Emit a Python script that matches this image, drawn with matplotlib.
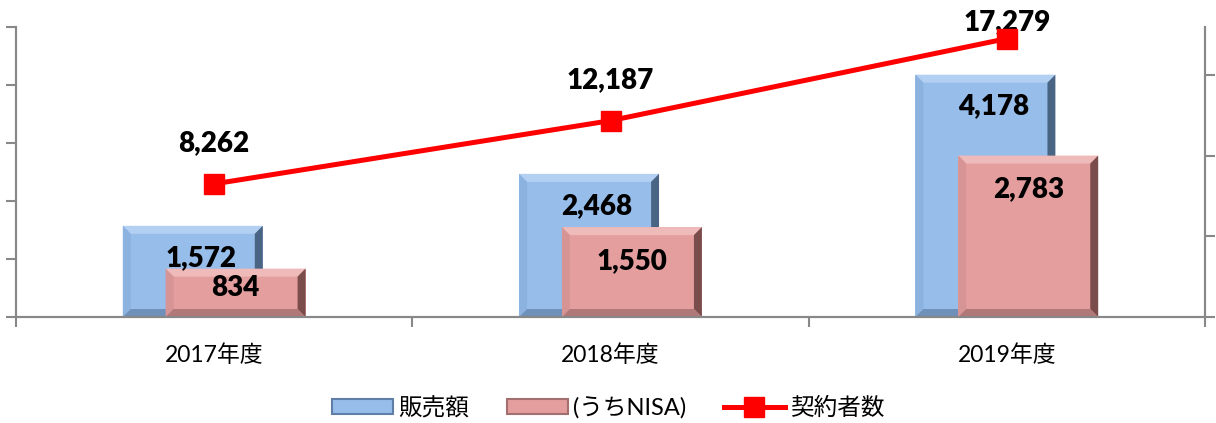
import matplotlib.pyplot as plt
from matplotlib.patches import Polygon, Patch
from matplotlib.lines import Line2D
import numpy as np

# data
years = ['2017年度', '2018年度', '2019年度']
sales = [1572, 2468, 4178]          # 販売額
nisa = [834, 1550, 2783]            # (うちNISA)
contracts = [8262, 12187, 17279]    # 契約者数

plt.rcParams['font.family'] = ['Lato', 'Noto Sans CJK JP', 'DejaVu Sans']

fig = plt.figure(figsize=(12.16, 4.23), dpi=100)
ax = fig.add_axes([16 / 1216, 106 / 423, 1189 / 1216, 290 / 423])
ax2 = ax.twinx()

x = np.arange(len(years))
width = 0.353
off = 0.054


def bevel_bars(bars, top, left, right, bottom, z):
    # fake the excel bevel effect with 4 trapezoids per bar
    dx = 0.02
    dy = 8 / 290 * 5000
    for b in bars:
        x0, y0 = b.get_x(), b.get_y()
        x1, y1 = x0 + b.get_width(), y0 + b.get_height()
        polys = [
            ([(x0, y1), (x1, y1), (x1 - dx, y1 - dy), (x0 + dx, y1 - dy)], top),
            ([(x0, y0), (x0, y1), (x0 + dx, y1 - dy), (x0 + dx, y0 + dy)], left),
            ([(x1, y0), (x1, y1), (x1 - dx, y1 - dy), (x1 - dx, y0 + dy)], right),
            ([(x0, y0), (x1, y0), (x1 - dx, y0 + dy), (x0 + dx, y0 + dy)], bottom),
        ]
        for pts, c in polys:
            ax.add_patch(Polygon(pts, closed=True, facecolor=c, edgecolor='none', zorder=z + 0.1))


b1 = ax.bar(x - off, sales, width, color='#97BDEB', zorder=2)
bevel_bars(b1, '#B3D0F2', '#8CB2E0', '#4A6484', '#6F90B8', 2)
b2 = ax.bar(x + off, nisa, width, color='#E49E9E', zorder=3)
bevel_bars(b2, '#EFBABA', '#D69494', '#7A4C4C', '#B07878', 3)

for xi, v in zip(x - off, sales):
    ax.text(xi + 0.02, max(v - 550, 0.6 * v), f'{v:,}', ha='center', va='center',
            fontsize=20, fontweight='heavy', zorder=5)
for xi, v in zip(x + off, nisa):
    ax.text(xi, max(v - 580, 0.6 * v), f'{v:,}', ha='center', va='center',
            fontsize=20, fontweight='heavy', zorder=5)

ax.set_xlim(-0.5, 2.5)
ax.set_ylim(0, 5000)
ax.set_yticks(np.arange(0, 5001, 1000))
ax.set_yticklabels([])
ax.set_xticks(x)
ax.set_xticklabels(years, fontsize=16.5)
ax.set_xticks([-0.5, 0.5, 1.5, 2.5], minor=True)
ax.tick_params(axis='x', which='major', length=0, pad=20)
ax.tick_params(axis='x', which='minor', length=7, width=1.5, color='#888888')
ax.tick_params(axis='y', length=7, width=1.5, color='#888888')

ax2.plot(x, contracts, color='#FF0000', lw=3.6, marker='s', markersize=14, zorder=4)
for xi, v in zip(x, contracts):
    ax2.text(xi, min(v + 2545, 18300), f'{v:,}', ha='center', va='center',
             fontsize=20, fontweight='heavy', clip_on=False)
ax2.set_ylim(0, 18000)
ax2.set_yticks([0, 5000, 10000, 15000])
ax2.set_yticklabels([])
ax2.tick_params(axis='y', length=7, width=1.5, color='#888888')

for a in (ax, ax2):
    a.spines['top'].set_visible(False)
    for s in ('left', 'right', 'bottom'):
        a.spines[s].set_color('#888888')
        a.spines[s].set_linewidth(1.5)

handles = [
    Patch(facecolor='#97BDEB', edgecolor='#5F7FA8', linewidth=1.5),
    Patch(facecolor='#E49E9E', edgecolor='#A46F6F', linewidth=1.5),
    Line2D([0], [0], color='#FF0000', lw=3.6, marker='s', markersize=14),
]
fig.legend(handles, ['販売額', '(うちNISA)', '契約者数'], loc='center',
           bbox_to_anchor=(0.5, 15 / 423), ncol=3, frameon=False, fontsize=17,
           handlelength=2.6, handleheight=0.6, handletextpad=0.2, columnspacing=1.6)

fig.savefig('out.png', dpi=100)
